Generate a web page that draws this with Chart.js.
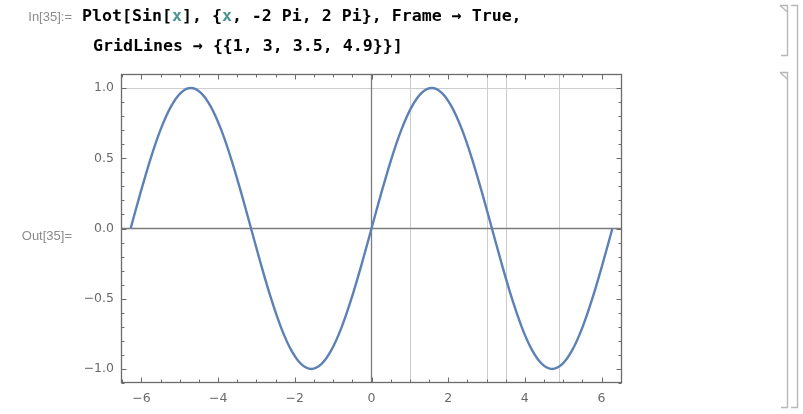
<!DOCTYPE html>
<html>
<head>
<meta charset="utf-8">
<script src="https://cdn.jsdelivr.net/npm/chart.js@4/dist/chart.umd.min.js"></script>
<style>
  html,body{margin:0;padding:0;background:#fff;}
  body{width:803px;height:414px;overflow:hidden;position:relative;}
  #c{position:absolute;left:0;top:0;}
  .lbl{position:absolute;right:731px;font:13px "Liberation Sans",Arial,sans-serif;line-height:13px;color:#8c8c8c;white-space:pre;}
  .code{position:absolute;font:bold 16.6px "DejaVu Sans Mono",monospace;line-height:16.6px;color:#000;white-space:pre;}
  .v{color:#4a9494;}
  svg{position:absolute;left:0;top:0;}
</style>
</head>
<body>
<canvas id="c" width="803" height="414"></canvas>
<div class="lbl" style="top:10px">In[35]:=</div>
<div class="lbl" style="top:229px">Out[35]=</div>
<div class="code" style="left:82px;top:8px">Plot[Sin[<span class="v">x</span>], {<span class="v">x</span>, -2 Pi, 2 Pi}, Frame → True,</div>
<div class="code" style="left:93px;top:38px">GridLines → {{1, 3, 3.5, 4.9}}]</div>
<svg width="803" height="414">
  <g stroke="#b8b8b8" stroke-width="1.4" fill="none">
    <path d="M780,5.5 H787.5 V55.5 H781"/>
    <path d="M780,5.5 L787.5,12"/>
    <path d="M780,72.5 H787.5 V407.5 H781"/>
    <path d="M780,72.5 L787.5,79"/>
    <path d="M791,5.5 H797.5 V407.5 H791"/>
  </g>
</svg>
<script>
// ---- data ----
const xValues = [-6.2832,-6.0214,-5.7596,-5.4978,-5.2360,-4.9742,-4.7124,-4.4506,-4.1888,-3.9270,-3.6652,-3.4034,
  -3.1416,-2.8798,-2.6180,-2.3562,-2.0944,-1.8326,-1.5708,-1.3090,-1.0472,-0.7854,-0.5236,-0.2618,
  0,0.2618,0.5236,0.7854,1.0472,1.3090,1.5708,1.8326,2.0944,2.3562,2.6180,2.8798,
  3.1416,3.4034,3.6652,3.9270,4.1888,4.4506,4.7124,4.9742,5.2360,5.4978,5.7596,6.0214,6.2832];
const yValues = [0,0.2588,0.5,0.7071,0.8660,0.9659,1,0.9659,0.8660,0.7071,0.5,0.2588,
  0,-0.2588,-0.5,-0.7071,-0.8660,-0.9659,-1,-0.9659,-0.8660,-0.7071,-0.5,-0.2588,
  0,0.2588,0.5,0.7071,0.8660,0.9659,1,0.9659,0.8660,0.7071,0.5,0.2588,
  0,-0.2588,-0.5,-0.7071,-0.8660,-0.9659,-1,-0.9659,-0.8660,-0.7071,-0.5,-0.2588,0];
const xTickValues = [-6,-4,-2,0,2,4,6];
const yTickValues = [-1,-0.5,0,0.5,1];
const xGridLines = [1,3,3.5,4.9];
const yGridLines = [1];
const xRange = [-6.5345,6.5345];
const yRange = [-1.1,1.1];

const FRAME = '#6b6b6b';
const fmtMinus = s => s.replace('-', '\u2212');

const framePlugin = {
  id: 'mmaFrame',
  beforeDatasetsDraw(chart){
    const {ctx, chartArea:a, scales:{x, y}} = chart;
    ctx.save();
    ctx.lineWidth = 1;
    ctx.strokeStyle = '#cdcdcd';
    xGridLines.forEach(v => {
      const p = Math.round(x.getPixelForValue(v)) + 0.5;
      ctx.beginPath(); ctx.moveTo(p, a.top); ctx.lineTo(p, a.bottom); ctx.stroke();
    });
    yGridLines.forEach(v => {
      const p = Math.round(y.getPixelForValue(v)) + 0.5;
      ctx.beginPath(); ctx.moveTo(a.left, p); ctx.lineTo(a.right, p); ctx.stroke();
    });
    // axes at zero
    ctx.strokeStyle = '#7c7c7c';
    ctx.lineWidth = 1.3;
    const x0 = x.getPixelForValue(0), y0 = y.getPixelForValue(0);
    ctx.beginPath(); ctx.moveTo(x0, a.top); ctx.lineTo(x0, a.bottom); ctx.stroke();
    ctx.beginPath(); ctx.moveTo(a.left, y0); ctx.lineTo(a.right, y0); ctx.stroke();
    ctx.restore();
  },
  afterDatasetsDraw(chart){
    const {ctx, chartArea:a, scales:{x, y}} = chart;
    const L = a.left + 0.5, R = Math.round(a.right) - 0.5, T = a.top + 0.5, B = Math.round(a.bottom) - 0.5;
    ctx.save();
    ctx.strokeStyle = FRAME;
    ctx.lineWidth = 1.3;
    ctx.strokeRect(L, T, R - L, B - T);
    ctx.lineWidth = 1;
    const tick = (x1,y1,x2,y2) => { ctx.beginPath(); ctx.moveTo(x1,y1); ctx.lineTo(x2,y2); ctx.stroke(); };
    for (let i = -13; i <= 13; i++) {
      const v = i * 0.5;
      if (v < xRange[0] || v > xRange[1]) continue;
      const major = xTickValues.includes(v);
      const len = major ? 5 : 3;
      const p = Math.round(x.getPixelForValue(v)) + 0.5;
      tick(p, B, p, B - len);
      tick(p, T, p, T + len);
    }
    for (let i = -11; i <= 11; i++) {
      const v = i / 10;
      if (v < yRange[0] || v > yRange[1]) continue;
      const major = yTickValues.some(t => Math.abs(t - v) < 1e-9);
      const len = major ? 5 : 3;
      const p = Math.round(y.getPixelForValue(v)) + 0.5;
      tick(L, p, L + len, p);
      tick(R, p, R - len, p);
    }
    ctx.restore();
  }
};

const tickFont = {family: '"DejaVu Sans", sans-serif', size: 12.5};

new Chart(document.getElementById('c'), {
  type: 'line',
  data: {
    datasets: [{
      data: xValues.map((v, i) => ({x: v, y: yValues[i]})),
      borderColor: '#5e81b5',
      borderWidth: 2.4,
      pointRadius: 0,
      fill: false,
      cubicInterpolationMode: 'monotone',
      clip: 4
    }]
  },
  options: {
    responsive: false,
    animation: false,
    devicePixelRatio: 1,
    layout: {padding: {left: 0, right: 181, top: 74, bottom: 0}},
    plugins: {legend: {display: false}, tooltip: {enabled: false}},
    scales: {
      x: {
        type: 'linear', min: xRange[0], max: xRange[1],
        grid: {display: false, drawTicks: false}, border: {display: false},
        afterBuildTicks: s => { s.ticks = xTickValues.map(v => ({value: v})); },
        afterFit: s => { s.height = 31; },
        ticks: {font: tickFont, color: '#6a6a6a', padding: 8, maxRotation: 0,
          callback: v => fmtMinus(String(v))}
      },
      y: {
        type: 'linear', min: yRange[0], max: yRange[1],
        grid: {display: false, drawTicks: false}, border: {display: false},
        afterBuildTicks: s => { s.ticks = yTickValues.map(v => ({value: v})); },
        afterFit: s => { s.width = 121; },
        ticks: {font: tickFont, color: '#6a6a6a', padding: 7,
          callback: v => fmtMinus(Number(v).toFixed(1))}
      }
    }
  },
  plugins: [framePlugin]
});
</script>
</body>
</html>
